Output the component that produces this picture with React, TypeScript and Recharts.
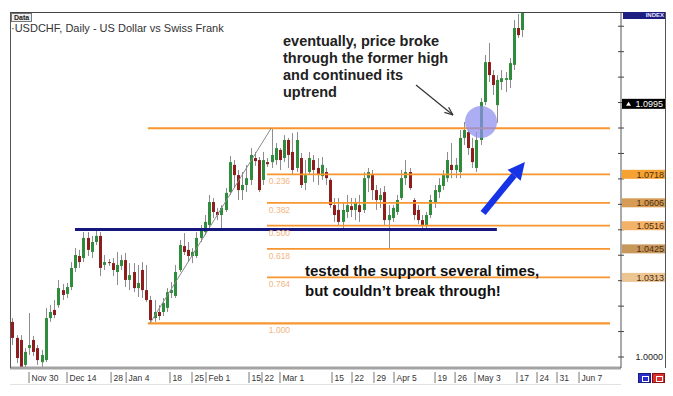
import React from 'react';
import { ComposedChart, Bar, XAxis, YAxis, ReferenceLine, ReferenceDot } from 'recharts';

// daily USDCHF candles
const candleOpen = [
  1.0138, 1.0075, 1.0067, 0.9969, 1.0035, 1.0067, 1.0035, 0.998, 0.9988, 1.0153,
  1.0185, 1.0204, 1.0263, 1.0248, 1.0275, 1.035, 1.0397, 1.0389, 1.0468, 1.0413,
  1.0452, 1.0476, 1.0362, 1.0373, 1.0369, 1.0334, 1.0358, 1.0381, 1.0303, 1.0334,
  1.0271, 1.0342, 1.0263, 1.0224, 1.0153, 1.0177, 1.0177, 1.0193, 1.0252, 1.024,
  1.0342, 1.0436, 1.0421, 1.0397, 1.0397, 1.0468, 1.0491, 1.0519, 1.0609, 1.057,
  1.0558, 1.0578, 1.0648, 1.0755, 1.0715, 1.0656, 1.0676, 1.0696, 1.0782, 1.0774,
  1.0696, 1.0766, 1.0766, 1.0774, 1.0814, 1.0782, 1.0853, 1.0806, 1.0743, 1.0782,
  1.0684, 1.0727, 1.0774, 1.0743, 1.0711, 1.0727, 1.0696, 1.0597, 1.0578, 1.0531,
  1.057, 1.0593, 1.0578, 1.0597, 1.0578, 1.0703, 1.0715, 1.0656, 1.0617, 1.0648,
  1.0538, 1.0546, 1.057, 1.0625, 1.0703, 1.0727, 1.0617, 1.0578, 1.0538, 1.0515,
  1.0558, 1.0605, 1.0648, 1.0672, 1.0703, 1.0755, 1.0735, 1.0727, 1.0861, 1.0884,
  1.0821, 1.0743, 1.0853, 1.1002, 1.1159, 1.1108, 1.099, 1.1081, 1.1089, 1.1089,
  1.1148, 1.1293, 1.1285,
];
const candleHigh = [
  1.0153, 1.0086, 1.0086, 1.0035, 1.0173, 1.0083, 1.0047, 1.0028, 1.0193, 1.0204,
  1.0224, 1.0303, 1.0287, 1.0291, 1.0373, 1.0428, 1.0421, 1.0491, 1.0491, 1.0476,
  1.0495, 1.0491, 1.0401, 1.0385, 1.0389, 1.0413, 1.0401, 1.0409, 1.0369, 1.0369,
  1.0362, 1.0373, 1.0362, 1.024, 1.0224, 1.0204, 1.0232, 1.0271, 1.0295, 1.0362,
  1.046, 1.0487, 1.0452, 1.0428, 1.0491, 1.0519, 1.0558, 1.0637, 1.0625, 1.0586,
  1.0597, 1.0664, 1.079, 1.0774, 1.0735, 1.0727, 1.0755, 1.0821, 1.0806, 1.0786,
  1.0806, 1.0782, 1.0899, 1.0841, 1.0821, 1.0872, 1.0861, 1.088, 1.0884, 1.0802,
  1.0774, 1.0806, 1.0794, 1.0782, 1.0786, 1.0743, 1.0703, 1.0625, 1.0625, 1.0609,
  1.0637, 1.0625, 1.0625, 1.0637, 1.0727, 1.0743, 1.0735, 1.0676, 1.0664, 1.0672,
  1.0597, 1.0597, 1.0637, 1.0735, 1.0774, 1.0743, 1.0625, 1.0597, 1.0558, 1.057,
  1.0637, 1.0676, 1.0703, 1.0735, 1.0806, 1.0841, 1.0782, 1.0892, 1.0924, 1.0892,
  1.0861, 1.0884, 1.1018, 1.1187, 1.1234, 1.1128, 1.1108, 1.1128, 1.112, 1.1175,
  1.1324, 1.1348, 1.1383,
];
const candleLow = [
  1.0047, 0.9976, 0.9953, 0.9949, 1.0008, 1.0004, 0.9969, 0.9957, 0.998, 1.0138,
  1.0153, 1.0193, 1.0224, 1.0232, 1.0263, 1.0334, 1.035, 1.0373, 1.0397, 1.0389,
  1.044, 1.0318, 1.0342, 1.0358, 1.0318, 1.0283, 1.0342, 1.0275, 1.0263, 1.0255,
  1.0236, 1.0232, 1.0216, 1.0132, 1.0138, 1.0145, 1.0161, 1.0177, 1.0232, 1.0232,
  1.0334, 1.0401, 1.0373, 1.0369, 1.0389, 1.0452, 1.0479, 1.0507, 1.0546, 1.0538,
  1.0499, 1.057, 1.0637, 1.0664, 1.0617, 1.0617, 1.0648, 1.0676, 1.0751, 1.0648,
  1.0676, 1.0747, 1.0743, 1.0755, 1.0735, 1.0766, 1.0743, 1.0719, 1.0727, 1.0664,
  1.0656, 1.0715, 1.0688, 1.0676, 1.0696, 1.0676, 1.0586, 1.0531, 1.0519, 1.0507,
  1.0546, 1.055, 1.0538, 1.0531, 1.0566, 1.0648, 1.0617, 1.0578, 1.0586, 1.0519,
  1.0428, 1.0531, 1.0558, 1.0617, 1.0676, 1.0656, 1.0538, 1.0523, 1.0507, 1.0507,
  1.0546, 1.0586, 1.0625, 1.0656, 1.0688, 1.0703, 1.0703, 1.0703, 1.0833, 1.0794,
  1.0743, 1.0727, 1.0833, 1.099, 1.1081, 1.103, 1.092, 1.1049, 1.1041, 1.1057,
  1.1128, 1.1254, 1.1257,
];
const candleClose = [
  1.0075, 0.9996, 0.9957, 1.002, 1.0047, 1.002, 0.9988, 1.0008, 1.0153, 1.0177,
  1.0165, 1.0271, 1.0244, 1.0275, 1.035, 1.0401, 1.0373, 1.0468, 1.0421, 1.0452,
  1.0476, 1.035, 1.0373, 1.0369, 1.0342, 1.0362, 1.0381, 1.0303, 1.0322, 1.0271,
  1.0291, 1.0263, 1.0224, 1.0145, 1.0177, 1.0161, 1.0212, 1.0255, 1.0263, 1.0334,
  1.044, 1.0413, 1.0397, 1.0413, 1.0468, 1.0499, 1.0531, 1.0609, 1.057, 1.0558,
  1.0586, 1.0645, 1.0766, 1.0715, 1.0656, 1.0676, 1.0703, 1.0794, 1.077, 1.0656,
  1.0774, 1.0758, 1.0794, 1.0821, 1.0774, 1.0853, 1.0794, 1.0735, 1.0853, 1.0676,
  1.0715, 1.0782, 1.0735, 1.0715, 1.0755, 1.0703, 1.0597, 1.0558, 1.0531, 1.0578,
  1.0597, 1.0578, 1.0605, 1.057, 1.0703, 1.0727, 1.0656, 1.0617, 1.0637, 1.0538,
  1.0558, 1.0586, 1.0617, 1.0703, 1.0727, 1.0664, 1.0558, 1.0538, 1.0519, 1.0558,
  1.0617, 1.0656, 1.0676, 1.0715, 1.0774, 1.0735, 1.0755, 1.0861, 1.0892, 1.0821,
  1.0766, 1.0853, 1.1002, 1.1159, 1.1108, 1.1069, 1.1089, 1.1096, 1.1096, 1.1155,
  1.1293, 1.1265, 1.1364,
];

// date ticks (position in trading days from the first bar) and their labels
const xTickPos = [4.07, 13.16, 23.7, 27.3, 37.8, 43.06, 46.41, 56.7, 59.8, 64.11, 76.56, 81.34, 86.6, 91.39, 101.2, 106, 110.77, 120.81, 125.6, 130.38, 135.65];
const xTickLabels = ['Nov 30', 'Dec 14', '28', 'Jan 4', '18', '25', 'Feb 1', '15', '22', 'Mar 1', '15', '22', '29', 'Apr 5', '19', '26', 'May 3', '17', '24', '31', 'Jun 7'];

const priceGrid = [1.0, 1.01, 1.02, 1.03, 1.04, 1.05, 1.06, 1.07, 1.08, 1.09, 1.1, 1.11, 1.12, 1.13];
const currentPrice = 1.0995;

// fibonacci retracement from the Jan low to the Feb high
const fibRatios = ['0.000', '0.236', '0.382', '0.500', '0.618', '0.764', '1.000'];
const fibPrices = [1.0899, 1.0718, 1.0606, 1.0516, 1.0425, 1.0313, 1.0132];
const fibTagColors = ['', '#f6a233', '#d69b55', '#f4b268', '#c8975c', '#edc592', ''];
const supportPrice = 1.0501;

const Y_DOMAIN = [0.99568, 1.13559];
const X_DOMAIN = [-0.478, 145.69];

const candles = candleOpen.map((o, i) => ({
  i,
  o,
  h: candleHigh[i],
  l: candleLow[i],
  c: candleClose[i],
  range: [candleLow[i], candleHigh[i]],
}));

function Candle(props: any) {
  const { x, y, width, height, payload } = props;
  if (!payload) return null;
  const { o, h, l, c } = payload;
  const span = h - l || 1e-9;
  const toPx = (v: number) => y + ((h - v) / span) * height;
  const cx = Math.round(x + width / 2) + 0.5;
  const top = toPx(Math.max(o, c));
  const bot = toPx(Math.min(o, c));
  const up = c >= o;
  return (
    <g>
      <line x1={cx} x2={cx} y1={y} y2={y + height} stroke="#8d8d8d" strokeWidth={1} />
      <rect x={cx - 1.5} y={top} width={3} height={Math.max(1, bot - top)} fill={up ? '#2f8c3c' : '#8e1e1e'} />
    </g>
  );
}

function DateTick(props: any) {
  const { x, y, payload } = props;
  const idx = xTickPos.indexOf(payload.value);
  return (
    <g>
      <line x1={x} x2={x} y1={y + 4} y2={y + 15} stroke="#777" strokeWidth={1} />
      <text x={x + 2.5} y={y + 13} fontSize={8.5} fill="#333" fontFamily="Liberation Sans, Arial, sans-serif">
        {xTickLabels[idx]}
      </text>
    </g>
  );
}

function PriceTick(props: any) {
  const { x, y, payload } = props;
  const v = payload.value;
  const font = 'Liberation Sans, Arial, sans-serif';
  if (v === currentPrice) {
    return (
      <g>
        <rect x={x + 1} y={y - 5} width={44} height={10} fill="#000" />
        <path d={`M${x + 5} ${y + 2} L${x + 7.5} ${y - 2} L${x + 10} ${y + 2} Z`} fill="#fff" />
        <text x={x + 42} y={y + 3.5} fontSize={9} fill="#fff" textAnchor="end" fontFamily={font}>
          {v.toFixed(4)}
        </text>
      </g>
    );
  }
  const tag = fibPrices.indexOf(v);
  if (tag >= 0 && fibTagColors[tag]) {
    return (
      <g>
        <rect x={x + 1} y={y - 4.5} width={44} height={9} fill={fibTagColors[tag]} />
        <text x={x + 43} y={y + 3.3} fontSize={9} fill="#4a2f0e" textAnchor="end" fontFamily={font}>
          {v.toFixed(4)}
        </text>
      </g>
    );
  }
  return (
    <g>
      <line x1={x - 3} x2={x + 3} y1={y} y2={y} stroke="#444" strokeWidth={1} />
      {v === 1 && (
        <text x={x + 42} y={y + 3} fontSize={9} fill="#222" textAnchor="end" fontFamily={font}>
          {v.toFixed(4)}
        </text>
      )}
    </g>
  );
}

function FibLabel(props: any) {
  const { viewBox, text } = props;
  if (!viewBox) return null;
  return (
    <text x={viewBox.x + 1} y={viewBox.y + 10} fontSize={8.5} fill="#f3b57f" fontFamily="Liberation Sans, Arial, sans-serif">
      {text}
    </text>
  );
}

function ThinArrow(props: any) {
  const { x1, y1, x2, y2 } = props;
  const ang = Math.atan2(y2 - y1, x2 - x1);
  const len = 9;
  const a1 = ang + Math.PI - 0.38;
  const a2 = ang + Math.PI + 0.38;
  return (
    <g stroke="#333" strokeWidth={1.2} fill="none">
      <line x1={x1} y1={y1} x2={x2} y2={y2} />
      <line x1={x2} y1={y2} x2={x2 + len * Math.cos(a1)} y2={y2 + len * Math.sin(a1)} />
      <line x1={x2} y1={y2} x2={x2 + len * Math.cos(a2)} y2={y2 + len * Math.sin(a2)} />
    </g>
  );
}

function BlueArrow(props: any) {
  const { x1, y1, x2, y2 } = props;
  const ang = Math.atan2(y2 - y1, x2 - x1);
  const head = 17;
  const bx = x2 - head * Math.cos(ang);
  const by = y2 - head * Math.sin(ang);
  const nx = -Math.sin(ang);
  const ny = Math.cos(ang);
  const w = 8.5;
  return (
    <g>
      <line x1={x1} y1={y1} x2={bx} y2={by} stroke="#1633e6" strokeWidth={6.5} />
      <path d={`M${x2} ${y2} L${bx + nx * w} ${by + ny * w} L${bx - nx * w} ${by - ny * w} Z`} fill="#1633e6" />
    </g>
  );
}

export default function App() {
  const font = 'Liberation Sans, Arial, sans-serif';
  return (
    <div style={{ position: 'absolute', left: 0, top: 0, width: 673, height: 396, background: '#fff', overflow: 'hidden' }}>
      <ComposedChart
        width={673}
        height={396}
        data={candles}
        margin={{ top: 12, right: 7, bottom: 10, left: 10 }}
        style={{ fontFamily: font }}
      >
        <XAxis
          type="number"
          dataKey="i"
          domain={X_DOMAIN}
          allowDataOverflow
          ticks={xTickPos}
          interval={0}
          height={18}
          tickSize={0}
          tickMargin={0}
          axisLine={{ stroke: '#a3a3a3', strokeWidth: 3 }}
          tick={<DateTick />}
        />
        <YAxis
          orientation="right"
          domain={Y_DOMAIN}
          allowDataOverflow
          ticks={[...priceGrid, currentPrice, ...fibPrices.slice(1, 6)]}
          interval={0}
          width={45}
          tickSize={0}
          tickMargin={0}
          tickLine={false}
          axisLine={{ stroke: '#555' }}
          tick={<PriceTick />}
        />
        <YAxis
          yAxisId="left"
          orientation="left"
          mirror
          width={0}
          domain={Y_DOMAIN}
          allowDataOverflow
          ticks={priceGrid}
          interval={0}
          tick={false}
          tickSize={3}
          tickLine={{ stroke: '#444' }}
          axisLine={{ stroke: '#555' }}
        />

        {fibPrices.map((p, k) => (
          <ReferenceLine
            key={'fib' + k}
            segment={[
              { x: k === 0 || k === 6 ? 32.5 : 61, y: p },
              { x: 143.06, y: p },
            ]}
            stroke="#f7962f"
            strokeWidth={k === 0 || k === 6 ? 2.2 : 1.8}
            ifOverflow="visible"
          />
        ))}
        {fibRatios.slice(1).map((r, k) => (
          <ReferenceDot key={'fl' + k} x={61.2} y={fibPrices[k + 1]} r={0} stroke="none" label={<FibLabel text={r} />} />
        ))}

        <Bar dataKey="range" barSize={3} isAnimationActive={false} shape={(p: any) => <Candle {...p} />} />

        <ReferenceLine
          segment={[
            { x: 33, y: fibPrices[6] },
            { x: 62, y: fibPrices[0] },
          ]}
          stroke="#8a8a8a"
          strokeWidth={1}
        />
        <ReferenceLine
          segment={[
            { x: 15.07, y: supportPrice },
            { x: 116, y: supportPrice },
          ]}
          stroke="#16167f"
          strokeWidth={3}
        />
        <ReferenceDot x={112.2} y={1.0924} r={16} fill="#8d8df0" fillOpacity={0.72} stroke="none" />
        <ReferenceLine
          segment={[
            { x: 96.65, y: 1.1069 },
            { x: 105.5, y: 1.0951 },
          ]}
          shape={(p: any) => <ThinArrow {...p} />}
          ifOverflow="visible"
        />
        <ReferenceLine
          segment={[
            { x: 112.7, y: 1.0566 },
            { x: 122.7, y: 1.0766 },
          ]}
          shape={(p: any) => <BlueArrow {...p} />}
          ifOverflow="visible"
        />
      </ComposedChart>

      {/* window frame */}
      <div style={{ position: 'absolute', left: 10, top: 12, width: 656, height: 356, borderTop: '1px solid #444', borderLeft: '1px solid #555', borderRight: '1px solid #555', boxSizing: 'border-box', pointerEvents: 'none' }} />
      <div style={{ position: 'absolute', left: 10, top: 384, width: 611, height: 1, background: '#e2e2e2' }} />

      <div style={{ position: 'absolute', left: 11, top: 13, padding: '0 2px', border: '1px solid #777', background: '#eee', font: `bold 7px ${font}`, lineHeight: '7px', color: '#222' }}>Data</div>
      <div style={{ position: 'absolute', left: 11, top: 22, font: `11px ${font}`, color: '#333', whiteSpace: 'nowrap' }}>
        ·USDCHF, Daily - US Dollar vs Swiss Frank
      </div>

      <div style={{ position: 'absolute', left: 623, top: 12, width: 42, height: 7, background: '#1d1d82', color: '#e6e6ff', font: `bold 6px ${font}`, lineHeight: '7px', textAlign: 'right', paddingRight: 1, boxSizing: 'border-box' }}>
        INDEX
      </div>

      <div style={{ position: 'absolute', left: 283, top: 33, font: `bold 14.5px ${font}`, lineHeight: '17px', color: '#222', whiteSpace: 'nowrap' }}>
        eventually, price broke
        <br />
        through the former high
        <br />
        and continued its
        <br />
        uptrend
      </div>
      <div style={{ position: 'absolute', left: 305, top: 261, font: `bold 15px ${font}`, lineHeight: '20px', color: '#111', whiteSpace: 'nowrap' }}>
        tested the support several times,
        <br />
        but couldn’t break through!
      </div>

      <div style={{ position: 'absolute', left: 638, top: 373, width: 13, height: 10, background: '#2d2dc8', border: '1px solid #1a1a80', boxSizing: 'border-box' }}>
        <div style={{ position: 'absolute', left: 3, top: 2, width: 5, height: 4, border: '1px solid #fff' }} />
      </div>
      <div style={{ position: 'absolute', left: 652, top: 373, width: 13, height: 10, background: '#d83030', border: '1px solid #8a1010', boxSizing: 'border-box' }}>
        <div style={{ position: 'absolute', left: 3, top: 2, width: 5, height: 4, border: '1px solid #fff' }} />
      </div>
    </div>
  );
}
